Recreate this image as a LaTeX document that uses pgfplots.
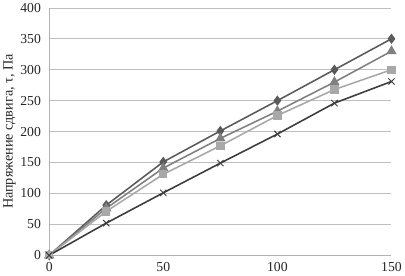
\documentclass[border=0pt]{standalone}
\usepackage{fontspec}
\setmainfont{Liberation Serif}
\usepackage{pgfplots}
\pgfplotsset{compat=1.18}
\definecolor{cA}{HTML}{5A5A5A}
\definecolor{cB}{HTML}{808080}
\definecolor{cC}{HTML}{A8A8A8}
\definecolor{cD}{HTML}{3C3C3C}
\begin{document}
\begin{tikzpicture}
\begin{axis}[
  scale only axis,
  width=350pt, height=253pt,
  xmin=0, xmax=150, ymin=0, ymax=400,
  xtick={0,50,100,150}, ytick={0,50,...,400},
  axis x line*=bottom, axis y line*=left,
  x axis line style={draw=black!30},
  y axis line style={draw=black!30},
  ymajorgrids, grid style={black!25, line width=0.7pt},
  major tick length=0pt,
  tick label style={font=\fontsize{14}{15}\selectfont, text=black!85},
  yticklabel style={xshift=-5pt},
  xticklabel style={yshift=-4pt},
  /pgf/number format/assume math mode=true,
  ylabel={Напряжение сдвига, τ, Па},
  ylabel style={font=\fontsize{14.5}{15}\selectfont, text=black!85, yshift=-2pt},
  clip=false,
  every axis plot/.append style={line width=1.6pt},
]
\addplot[cA, mark=diamond*, mark size=4pt, mark options={fill=cA}] coordinates {(0,0)(25,81)(50,151)(75,201)(100,250)(125,300)(150,350)};
\addplot[cB, mark=triangle*, mark size=4.5pt, mark options={fill=cB}] coordinates {(0,0)(25,76)(50,141)(75,189)(100,233)(125,280)(150,330)};
\addplot[cC, mark=square*, mark size=3.5pt, mark options={fill=cC}] coordinates {(0,0)(25,71)(50,131)(75,177)(100,226)(125,268)(150,300)};
\addplot[cD, mark=x, mark size=4.5pt, mark options={line width=1pt}] coordinates {(0,0)(25,52)(50,101)(75,149)(100,196)(125,246)(150,281)};
\end{axis}
\end{tikzpicture}
\end{document}
